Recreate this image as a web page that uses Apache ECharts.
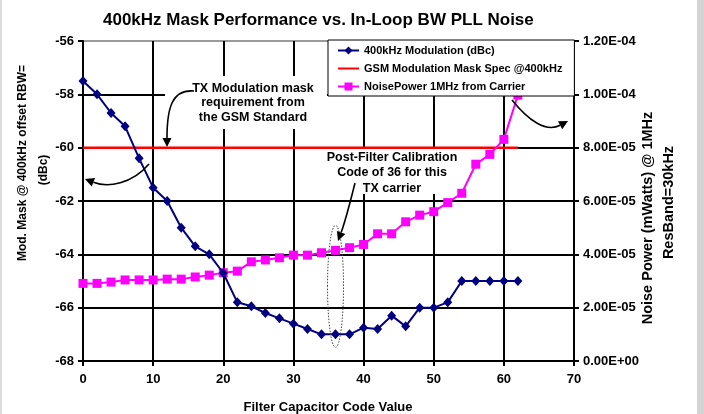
<!DOCTYPE html>
<html><head><meta charset="utf-8">
<script src="https://cdn.jsdelivr.net/npm/echarts@6/dist/echarts.min.js"></script>
<style>html,body{margin:0;padding:0;background:#fff}#c{width:704px;height:414px}</style>
</head><body><div id="c"></div>
<script>
const FONT = '"Liberation Sans", Arial, sans-serif';
const chartTitle = '400kHz Mask Performance vs. In-Loop BW PLL Noise';
const xAxisName = 'Filter Capacitor Code Value';
const leftAxisNameLines = ['Mod. Mask @ 400kHz offset RBW=', '(dBc)'];
const rightAxisNameLines = ['Noise Power (mWatts) @ 1MHz', 'ResBand=30kHz'];
const seriesNames = ['400kHz Modulation (dBc)', 'GSM Modulation Mask Spec @400kHz', 'NoisePower 1MHz from Carrier'];
const annotationTx = ['TX Modulation mask', 'requirement from', 'the GSM Standard'];
const annotationCal = ['Post-Filter Calibration', 'Code of 36 for this', 'TX carrier'];

const codes = [0,2,4,6,8,10,12,14,16,18,20,22,24,26,28,30,32,34,36,38,40,42,44,46,48,50,52,54,56,58,60,62];
const modulationDbc = [-57.5,-58.0,-58.7,-59.2,-60.4,-61.5,-62.0,-63.0,-63.7,-64.0,-64.7,-65.8,-65.95,-66.2,-66.4,-66.6,-66.8,-67.0,-67.0,-67.0,-66.75,-66.8,-66.3,-66.7,-66.0,-66.0,-65.8,-65.0,-65.0,-65.0,-65.0,-65.0];
const maskCodes = [0, 62];
const maskDbc = [-60, -60];
const noisePowerMw = [2.91e-5,2.91e-5,2.96e-5,3.04e-5,3.04e-5,3.04e-5,3.07e-5,3.07e-5,3.15e-5,3.22e-5,3.31e-5,3.37e-5,3.72e-5,3.79e-5,3.87e-5,3.97e-5,3.97e-5,4.06e-5,4.15e-5,4.25e-5,4.37e-5,4.77e-5,4.77e-5,5.22e-5,5.47e-5,5.60e-5,5.94e-5,6.29e-5,7.38e-5,7.75e-5,8.31e-5,9.97e-5];
const calibrationCode = 36;

const xRange = {min: 0, max: 70, interval: 10};
const leftRange = {min: -68, max: -56, interval: 2};
const rightRange = {min: 0, max: 1.2e-4, interval: 2e-5};

function sci(v) {
  if (Math.abs(v) < 1e-15) return '0.00E+00';
  const s = v.toExponential(2);
  const parts = s.split('e');
  const e = parseInt(parts[1], 10);
  return parts[0] + 'E' + (e < 0 ? '-' : '+') + String(Math.abs(e)).padStart(2, '0');
}

const chart = echarts.init(document.getElementById('c'), null, {renderer: 'canvas'});
const labelStyle = {fontFamily: FONT, fontWeight: 'bold', fontSize: 13, color: '#000'};

function arrow(p0, c1, c2, p3) {
  const dx = p3[0] - c2[0], dy = p3[1] - c2[1];
  const L = Math.hypot(dx, dy), ux = dx / L, uy = dy / L;
  const hl = 9, hw = 4.5;
  const bx = p3[0] - ux * hl, by = p3[1] - uy * hl;
  return [
    {type: 'bezierCurve', z: 110, shape: {x1: p0[0], y1: p0[1], cpx1: c1[0], cpy1: c1[1], cpx2: c2[0], cpy2: c2[1], x2: bx, y2: by},
     style: {stroke: '#000', lineWidth: 1.6, fill: null}},
    {type: 'polygon', z: 110, shape: {points: [[p3[0], p3[1]], [bx - uy * hw, by + ux * hw], [bx + uy * hw, by - ux * hw]]},
     style: {fill: '#000'}}
  ];
}

function txt(text, x, y, size, rot, lh) {
  return {type: 'text', z: 120, x: x, y: y, rotation: rot || 0,
    style: {text: text, fontFamily: FONT, fontWeight: 'bold', fontSize: size, fill: '#000',
            align: 'center', verticalAlign: 'middle', lineHeight: lh || size * 1.2}};
}

chart.setOption({
  animation: false,
  backgroundColor: '#fff',
  title: {text: chartTitle, left: 98, top: 7,
    textStyle: {fontFamily: FONT, fontWeight: 'bold', fontSize: 17, color: '#000'}},
  grid: {left: 83, right: 130, top: 41, bottom: 53, containLabel: false, outerBoundsMode: 'none'},
  legend: {
    orient: 'vertical', left: 328, top: 40, itemWidth: 21, itemHeight: 10, itemGap: 7,
    padding: [5, 12, 4, 9], backgroundColor: '#fff', borderColor: '#000', borderWidth: 1,
    textStyle: {fontFamily: FONT, fontWeight: 'bold', fontSize: 11, color: '#000'},
    data: [
      {name: seriesNames[0]},
      {name: seriesNames[1], itemStyle: {opacity: 0, color: 'rgba(0,0,0,0)', borderWidth: 0}},
      {name: seriesNames[2]}
    ]
  },
  xAxis: {
    type: 'value', min: xRange.min, max: xRange.max, interval: xRange.interval,
    axisLine: {show: true, onZero: false, lineStyle: {color: '#000', width: 2}},
    axisTick: {show: true, length: 5, lineStyle: {color: '#000', width: 2}},
    axisLabel: Object.assign({margin: 12}, labelStyle),
    splitLine: {show: true, lineStyle: {color: '#000', width: 2}}
  },
  yAxis: [{
    type: 'value', position: 'left', min: leftRange.min, max: leftRange.max, interval: leftRange.interval,
    axisLine: {show: true, onZero: false, lineStyle: {color: '#000', width: 2}},
    axisTick: {show: true, length: 5, lineStyle: {color: '#000', width: 2}},
    axisLabel: Object.assign({margin: 9}, labelStyle),
    splitLine: {show: true, lineStyle: {color: ['#000','#000','#000','#000','#000','#000','#9a9a9a'], width: 2}}
  }, {
    type: 'value', position: 'right', min: rightRange.min, max: rightRange.max, interval: rightRange.interval,
    axisLine: {show: true, onZero: false, lineStyle: {color: '#000', width: 2}},
    axisTick: {show: true, length: 5, lineStyle: {color: '#000', width: 2}},
    axisLabel: Object.assign({margin: 9, formatter: sci}, labelStyle),
    splitLine: {show: false}
  }],
  series: [{
    name: seriesNames[0], type: 'line', z: 4,
    data: codes.map((c, i) => [c, modulationDbc[i]]),
    symbol: 'diamond', symbolSize: [9, 10],
    lineStyle: {color: '#000080', width: 2}, itemStyle: {color: '#000080'}
  }, {
    name: seriesNames[1], type: 'line', z: 3,
    data: maskCodes.map((c, i) => [c, maskDbc[i]]),
    symbol: 'none', lineStyle: {color: '#ff0000', width: 2.5}, itemStyle: {color: '#ff0000'}
  }, {
    name: seriesNames[2], type: 'line', yAxisIndex: 1, z: 3,
    data: codes.map((c, i) => [c, noisePowerMw[i]]),
    symbol: 'rect', symbolSize: 9,
    lineStyle: {color: '#ff00ff', width: 2}, itemStyle: {color: '#ff00ff'}
  }]
});

const ell = chart.convertToPixel({xAxisIndex: 0, yAxisIndex: 0}, [calibrationCode, -65.2]);
const graphics = [
  {type: 'rect', z: 100, shape: {x: 0, y: 0, width: 2, height: 414}, style: {fill: '#dcdcdc'}},
  {type: 'rect', z: 100, shape: {x: 697, y: 0, width: 7, height: 414}, style: {fill: '#d4d4d4'}},
  {type: 'rect', z: 1, shape: {x: 165, y: 76, width: 162, height: 53}, style: {fill: '#fff'}},
  {type: 'rect', z: 1, shape: {x: 318, y: 149, width: 146, height: 45}, style: {fill: '#fff'}},
  txt(xAxisName, 328, 407, 13),
  txt(leftAxisNameLines[0], 22.5, 163, 12, Math.PI / 2),
  txt(leftAxisNameLines[1], 44, 170, 12, Math.PI / 2),
  txt(rightAxisNameLines[0], 648, 218, 14.5, Math.PI / 2),
  txt(rightAxisNameLines[1], 669, 202.5, 14.5, Math.PI / 2),
  txt(annotationTx.join('\n'), 253, 103, 12.5, 0, 14.7),
  txt(annotationCal.join('\n'), 392, 173, 12.5, 0, 15.3),
  {type: 'ellipse', z: 110, shape: {cx: ell[0], cy: ell[1], rx: 8, ry: 61},
   style: {stroke: '#444', lineWidth: 1, lineDash: [1.5, 1.5], fill: null}}
].concat(
  arrow([194, 91], [172, 89], [167, 108], [167, 147]),
  arrow([149, 164], [132, 184], [108, 188], [85, 179]),
  arrow([512, 100], [528, 120], [546, 133], [568, 121]),
  arrow([355, 183], [350, 203], [345, 222], [338, 241])
);
chart.setOption({graphic: graphics});
</script>
</body></html>
